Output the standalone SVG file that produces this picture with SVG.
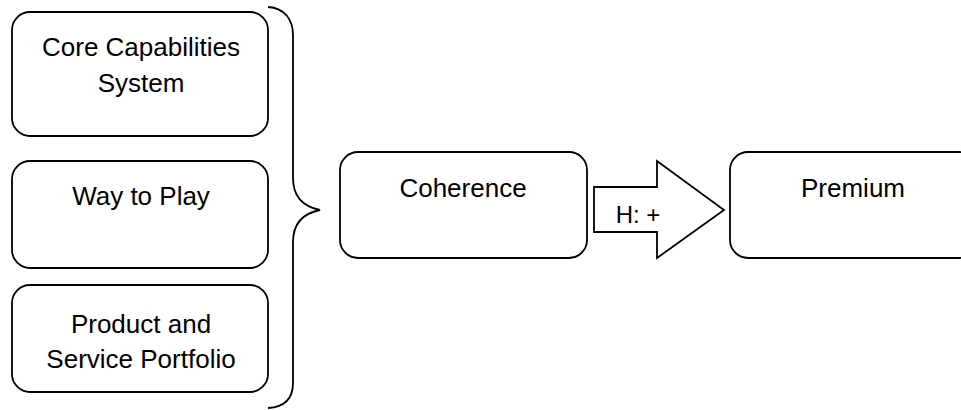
<svg xmlns="http://www.w3.org/2000/svg" width="961" height="410" viewBox="0 0 961 410">
<style>
.box{fill:#fff;stroke:#000;stroke-width:1.8}
.t{font-family:"Liberation Sans",Arial,sans-serif;font-size:26px;fill:#000;text-anchor:middle}
.ln{fill:none;stroke:#000;stroke-width:1.8}
</style>
<rect width="961" height="410" fill="#fff"/>
<g id="core">
<rect class="box" x="12" y="12" width="256" height="124" rx="18"/>
<text class="t" x="141" y="56">Core Capabilities</text>
<text class="t" x="141" y="92">System</text>
</g>
<g id="way">
<rect class="box" x="12" y="161" width="256" height="107" rx="18"/>
<text class="t" x="141" y="205">Way to Play</text>
</g>
<g id="product">
<rect class="box" x="12" y="285" width="256" height="107" rx="18"/>
<text class="t" x="141" y="333">Product and</text>
<text class="t" x="141" y="368">Service Portfolio</text>
</g>
<g id="coherence">
<rect class="box" x="340" y="152" width="247" height="106" rx="18"/>
<text class="t" x="463" y="197">Coherence</text>
</g>
<g id="premium">
<rect class="box" x="730" y="152" width="247" height="106" rx="18"/>
<text class="t" x="853" y="197">Premium</text>
</g>
<g id="connectors">
<path class="ln" d="M268,7 C285,8 293,20 293,35 L293,178 C293,198 305,207 320,210 C305,213 293,222 293,242 L293,383 C293,398 285,407 268,408"/>
<path class="box" d="M594,187 L657,187 L657,161 L724,210 L657,258 L657,232 L594,232 Z"/>
<text class="t" x="638" y="223" style="font-size:24px">H: +</text>
</g>
</svg>
